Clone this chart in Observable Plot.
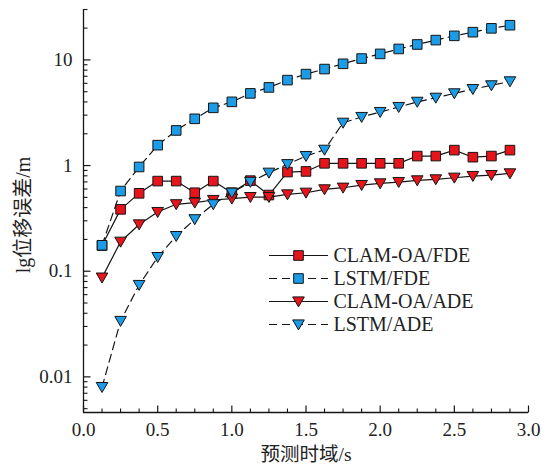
<!DOCTYPE html>
<html>
<head>
<meta charset="utf-8">
<script src="https://cdn.jsdelivr.net/npm/d3@7"></script>
<script src="https://cdn.jsdelivr.net/npm/@observablehq/plot@0.6"></script>
<style>
  html, body { margin: 0; padding: 0; background: #fff; }
</style>
</head>
<body>
<div id="chart"></div>
<script>
// ---- data ----
const horizon = [0.125, 0.25, 0.375, 0.5, 0.625, 0.75, 0.875, 1.0, 1.125, 1.25, 1.375, 1.5,
                 1.625, 1.75, 1.875, 2.0, 2.125, 2.25, 2.375, 2.5, 2.625, 2.75, 2.875];
const clamFDE = [0.175, 0.385, 0.546, 0.713, 0.713, 0.553, 0.713, 0.553, 0.72, 0.526, 0.868, 0.88,
                 1.05, 1.05, 1.05, 1.05, 1.05, 1.23, 1.23, 1.40, 1.20, 1.23, 1.40];
const lstmFDE = [0.176, 0.574, 0.97, 1.56, 2.15, 2.77, 3.52, 4.01, 4.82, 5.49, 6.44, 7.34,
                 8.19, 9.19, 10.3, 11.4, 12.7, 14.0, 15.4, 16.9, 18.3, 19.9, 21.3];
const clamADE = [0.087, 0.19, 0.277, 0.363, 0.43, 0.445, 0.472, 0.486, 0.503, 0.503, 0.533, 0.553,
                 0.595, 0.617, 0.654, 0.678, 0.698, 0.724, 0.74, 0.767, 0.796, 0.813, 0.843];
const lstmADE = [0.0080, 0.0338, 0.074, 0.136, 0.215, 0.31, 0.43, 0.553, 0.70, 0.855, 1.03, 1.23,
                 1.41, 2.54, 2.88, 3.21, 3.58, 4.01, 4.38, 4.82, 5.29, 5.74, 6.26];
const seriesNames = ["CLAM-OA/FDE", "LSTM/FDE", "CLAM-OA/ADE", "LSTM/ADE"];
const xTickLabels = [0.0, 0.5, 1.0, 1.5, 2.0, 2.5, 3.0];
const yTickLabels = [0.01, 0.1, 1, 10];
const xTitle = "预测时域/s";
const yTitle = "lg位移误差/m";

// ---- styles ----
const FONT = '"Liberation Serif", "Noto Sans CJK SC", serif';
const RED = "#e8141c", BLUE = "#1c9be6", INK = "#151515", TXT = "#222";
const yDomain = [0.0046, 30];
const xDomain = [0, 3];

const squareSym = {draw(ctx) { const s = 4.8; ctx.moveTo(-s, -s); ctx.lineTo(s, -s); ctx.lineTo(s, s); ctx.lineTo(-s, s); ctx.closePath(); }};
const triDownSym = {draw(ctx) { ctx.moveTo(-5.8, -4.6); ctx.lineTo(5.8, -4.6); ctx.lineTo(0, 5.4); ctx.closePath(); }};
const hTick = len => ({draw(ctx) { ctx.moveTo(0, 0); ctx.lineTo(len, 0); }});
const vTick = len => ({draw(ctx) { ctx.moveTo(0, 0); ctx.lineTo(0, -len); }});
const legendLine = {draw(ctx) { ctx.moveTo(-29.5, 0); ctx.lineTo(29.5, 0); }};

const series = [
  {name: seriesNames[0], values: clamFDE, fill: RED,  sym: squareSym,  dash: null},
  {name: seriesNames[1], values: lstmFDE, fill: BLUE, sym: squareSym,  dash: "8,5"},
  {name: seriesNames[2], values: clamADE, fill: RED,  sym: triDownSym, dash: null},
  {name: seriesNames[3], values: lstmADE, fill: BLUE, sym: triDownSym, dash: "8,5"}
];

// minor / major tick positions
const yMinor = [];
for (let e = -3; e <= 1; e++) for (let m = 2; m <= 9; m++) {
  const v = +(m * Math.pow(10, e)).toPrecision(3);
  if (v >= yDomain[0] && v <= yDomain[1]) yMinor.push(v);
}
const xMinor = d3.range(0, 3.0001, 0.125).filter(v => Math.abs(v * 2 - Math.round(v * 2)) > 1e-6);

const marks = [];
// axis lines
marks.push(Plot.ruleX([xDomain[0]], {stroke: INK, strokeWidth: 1.3}));
marks.push(Plot.ruleY([yDomain[0]], {stroke: INK, strokeWidth: 1.3}));
// inward ticks
marks.push(Plot.dot(yTickLabels, {x: () => xDomain[0], y: d => d, symbol: hTick(7), stroke: INK, fill: "none", strokeWidth: 1.2}));
marks.push(Plot.dot(yMinor, {x: () => xDomain[0], y: d => d, symbol: hTick(4), stroke: INK, fill: "none", strokeWidth: 1.1}));
marks.push(Plot.dot(xTickLabels, {x: d => d, y: () => yDomain[0], symbol: vTick(7), stroke: INK, fill: "none", strokeWidth: 1.2}));
marks.push(Plot.dot(xMinor, {x: d => d, y: () => yDomain[0], symbol: vTick(4), stroke: INK, fill: "none", strokeWidth: 1.1}));
// tick labels
marks.push(Plot.axisX({ticks: xTickLabels, tickFormat: d3.format(".1f"), tickSize: 0, tickPadding: 10, fontSize: 19, fontFamily: FONT, label: null, fill: TXT}));
marks.push(Plot.axisY({ticks: yTickLabels, tickFormat: d => String(d), tickSize: 0, tickPadding: 11, fontSize: 19, fontFamily: FONT, label: null, fill: TXT}));
// titles
marks.push(Plot.text([xTitle], {text: d => d, frameAnchor: "bottom", lineAnchor: "middle", textAnchor: "middle", dy: 42, fontSize: 19.5, fontFamily: FONT, fill: TXT}));
marks.push(Plot.text([yTitle], {text: d => d, frameAnchor: "left", lineAnchor: "middle", textAnchor: "middle", dx: -60, dy: 4, rotate: -90, fontSize: 20, fontFamily: FONT, fill: TXT}));

// series
for (const s of series) {
  const data = horizon.map((x, i) => ({x, y: s.values[i]}));
  marks.push(Plot.line(data, {x: "x", y: "y", stroke: INK, strokeWidth: 1.2, strokeDasharray: s.dash}));
  marks.push(Plot.dot(data, {x: "x", y: "y", symbol: s.sym, fill: s.fill, stroke: INK, strokeWidth: 1, r: 4}));
}

// legend (inside the frame)
series.forEach((s, i) => {
  const dy = 246 + i * 23;
  marks.push(Plot.dot([s.name], {frameAnchor: "top-left", dx: 215, dy, symbol: legendLine, stroke: INK, fill: "none", strokeWidth: 1.2, strokeDasharray: s.dash}));
  marks.push(Plot.dot([s.name], {frameAnchor: "top-left", dx: 215, dy, symbol: s.sym, fill: s.fill, stroke: INK, strokeWidth: 1, r: 4}));
  marks.push(Plot.text([s.name], {text: d => d, frameAnchor: "top-left", lineAnchor: "middle", textAnchor: "start", dx: 250, dy, fontSize: 20, fontFamily: FONT, fill: TXT}));
});

const chart = Plot.plot({
  width: 545,
  height: 471,
  marginLeft: 83,
  marginRight: 17,
  marginTop: 9,
  marginBottom: 59,
  style: {fontFamily: FONT, fontSize: "19px", background: "#fff", color: TXT},
  x: {domain: xDomain, axis: null},
  y: {type: "log", domain: yDomain, axis: null},
  marks
});
document.getElementById("chart").appendChild(chart);
</script>
</body>
</html>
